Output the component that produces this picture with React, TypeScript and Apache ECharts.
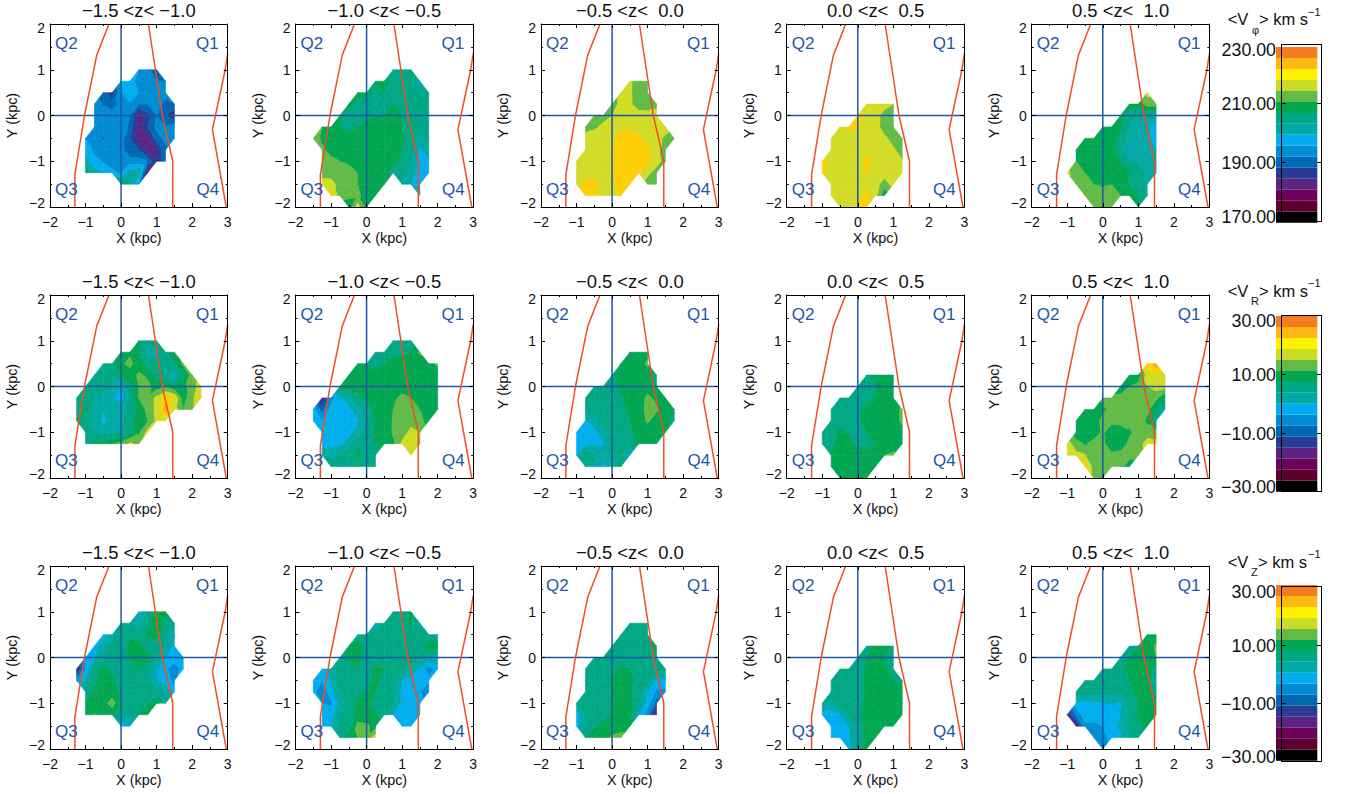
import React, { useEffect, useRef } from "react";
import * as echarts from "echarts";

// Values are positions on the colour bar (0 = bottom band, 16 = top).
// Each row: [y, first x, value at first x, value at next x (0.25 kpc further), ...]
const phiA = [
  [1, .5, 7, 6.5, 4.8],
  [.75, 0, 7.2, 7.5, 6.5, 6.5, 6, 6],
  [.5, -.5, 5.5, 4.4, 7, 7.5, 7, 7, 6.8, 6.5],
  [.25, -.75, 6.5, 5.9, 5.4, 6.5, 6.9, 6, 6, 6.8, 5.5, 6],
  [0, -.75, 6.5, 6.5, 6.5, 6.5, 6, 2.8, 4.5, 6, 5, 3.9],
  [-.25, -.75, 6.5, 6.5, 6.5, 6.5, 5.8, 3.5, 5, 6.3, 6, 6.3],
  [-.5, -1, 7, 6.5, 5.9, 6.5, 6.5, 5, 3.5, 3.5, 5.5, 6.3, 6.5],
  [-.75, -1, 7.6, 6.8, 6.6, 6.5, 6.5, 5, 5, 3.5, 4, 5.8],
  [-1, -1, 8.4, 7.3, 6.9, 6.6, 6.5, 6.5, 6.5, 6, 4, 6],
  [-1.25, -1, 10.2, 8.4, 8, 7.2, 6.9, 8.5, 8.8, 3],
  [-1.5, 0, 10, 8.5, 7],
];
const phiB = [
  [1, .75, 9.5, 9.5, 9.3],
  [.75, .25, 10.3, 10.2, 9.7, 9.5, 9.5, 8.5],
  [.5, -.25, 10.3, 10.2, 9.3, 10, 9.8, 9.5, 9.5, 9.3, 9],
  [.25, -.5, 10.2, 9.7, 9.5, 8.6, 9.8, 10, 9.7, 9.5, 9.5, 9.5],
  [0, -.75, 10.1, 9.4, 9.5, 9.6, 10, 10, 10, 10, 9.8, 9.5, 9.5],
  [-.25, -1.25, 11, 10.4, 10, 9.6, 10, 10.4, 10.5, 10.5, 10.5, 10, 9.6, 9.5, 9.5],
  [-.5, -1.5, 11.5, 10.8, 10.4, 10.5, 10.5, 10.5, 10.5, 10.5, 10.5, 10.4, 10.2, 9.5, 8.7, 9.4],
  [-.75, -1.25, 11.2, 10.6, 10.5, 10.5, 10.5, 10.5, 10.5, 10.5, 10.4, 10, 9.3, 7.8, 8.6],
  [-1, -1.25, 11.5, 11.3, 11, 10.9, 10.5, 10.4, 10.3, 10.4, 10.3, 9.8, 9.2, 7.5, 7.8],
  [-1.25, -1.25, 11.5, 11.4, 11.3, 11.2, 11, 10.4, 10.3, 10.5, 9.5, 9.2, 8.5, 7.5, 7.5],
  [-1.5, -1.25, 12.5, 12.5, 11.5, 11.4, 11, 10.6, 10.5, 11, null, 9, 8, 7.5],
  [-1.75, -1, 13.3, 11.5, 11.3, 11.2, 10.6, 10.5, null, null, null, null, 9],
  [-2, -.5, 10.2, 12.5, 10.5],
];
const phiC = [
  [.75, .5, 12.3, 11.2, 11.2],
  [.5, .25, 12.3, 12.2, 11.3, 11.4],
  [.25, 0, 11.5, 12.3, 12.2, 11.4, 11.3, 11.6],
  [0, -.5, 11.3, 11.5, 12, 12.5, 12.5, 12.5, 12.5, 12.5],
  [-.25, -.75, 11.5, 11.8, 12.3, 12.5, 12.6, 12.8, 12.7, 12.6, 12.5, 12.5],
  [-.5, -.75, 12.5, 12.5, 12.5, 12.9, 13.6, 13.5, 13.2, 12.7, 12.3, 11.8, 11.3],
  [-.75, -.75, 12.5, 12.5, 12.5, 12.9, 13.6, 13.5, 13.5, 13.2, 12.3, 11.6],
  [-1, -1, 12.5, 12.5, 12.5, 12.5, 12.9, 13.5, 13.6, 13.6, 13.2, 12.5, 11.5],
  [-1.25, -1, 12.5, 12.5, 12.5, 12.5, 12.9, 13.5, 13.6, 13.1, 12.3, 11.5],
  [-1.5, -1, 12.5, 13.3, 13.3, 12.5, 12.8, 13.5, 13.2, null, 11.5, 11.4],
  [-1.75, -.75, 13.3, 13.2, 12.5, 12.8, 13.2],
];
const phiD = [
  [.25, .25, 12.5, 12.5, 12.5, 12],
  [0, 0, 13.3, 12.9, 12.5, 11.5, 11.5],
  [-.25, -.5, 12.5, 13.3, 13, 12.5, 12.5, 11.4, 11.5],
  [-.5, -.75, 12.5, 12.5, 12.5, 12.5, 12.5, 12.5, 12.3, 11.5, 11.5],
  [-.75, -.75, 12.5, 12.5, 12.5, 12.5, 12.7, 12.5, 12.5, 12.2, 11.4],
  [-1, -1, 13.3, 12.7, 12.5, 12.5, 12.5, 13.4, 12.6, 12.5, 12.5, 12.1],
  [-1.25, -1, 13.2, 12.6, 12.5, 12.5, 12.5, 13.1, 12.5, 12.5, 12.5, 12.5],
  [-1.5, -.75, 12.5, 12.5, 12.5, 12.5, 12.5, 12.4, 11.5, 12.4],
  [-1.75, -.75, 12.5, 12.5, 12.5, 12.5, 13.5, 12.2, 10.3],
  [-2, -.5, 12.5, 12.5, 13.2, 13.3],
];
const phiE = [
  [.5, 1.25, 12.3],
  [.25, .75, 10.4, 10.5, 11.5, 11.5],
  [0, .5, 10.2, 9.3, 9, 9, 8.7],
  [-.25, 0, 10.5, 10.5, 10.2, 8.9, 8.6, 8.3, 7.3],
  [-.5, -.5, 11, 11, 10.5, 10.5, 9.5, 8.7, 8.5, 8.3, 7.4],
  [-.75, -.75, 10.3, 10.5, 10.5, 10.5, 10.5, 9, 8.7, 8.5, 8.5, 8],
  [-1, -.75, 11, 10.6, 10.5, 10.5, 10.5, 10, 9, 8.7, 8.6, 8.2],
  [-1.25, -1, 12.3, 11.3, 11, 10.8, 10.5, 10.5, 10.5, 10, 9.8, 8.8, 8.2],
  [-1.5, -.75, 11.4, 11.3, 11, 10.9, 11, 10.8, 9.9, 9.5, 8.7],
  [-1.75, -.5, 11.4, 11.3, 11.3, 11.4, 11, 10.5, 10, 9],
  [-2, -.25, 11.4, 11.4, 11.4, null, null, 10],
];
const radA = [
  [1, .5, 10, 9.5, 9.3],
  [.75, 0, 10.5, 10.8, 10, 8.5, 8.8, 9.5, 10.5],
  [.5, -.5, 8.8, 9.6, 10.8, 11.3, 10.4, 9.5, 9.2, 9.2, 9.8, 11.3],
  [.25, -.75, 8.8, 9.8, 9.2, 10.4, 10.5, 11.2, 10.8, 9.6, 8.7, 7.8, 9.8, 11.5],
  [0, -1, 9.3, 9.5, 9.5, 9.2, 8, 9.6, 11, 11.3, 10.5, 10.8, 10.2, 10.7, 11.5, 12.5],
  [-.25, -1.25, 9.5, 9.8, 9, 8.4, 8, 7.5, 9.3, 11, 11.2, 12.3, 13.5, 13, 10.5, 11.8, 12.8],
  [-.5, -1.25, 9.3, 10.2, 8.8, 8, 8.3, 8.7, 9.5, 10.3, 11.3, 12.3, 14.5, 12.5, 11, 11.8],
  [-.75, -1.25, 10.2, 9.3, 8.7, 7.7, 8.5, 8.8, 9.5, 10.5, 11, 12.2, 12.5],
  [-1, -1, 9.5, 9, 8.7, 8.8, 9, 9.7, 10.8, 12.4],
  [-1.25, -1, 9.5, 10.2, 10.5, 10.8, 11.4, 12.2, 11.5],
];
const radB = [
  [1, .75, 9.5, 9, 9.4],
  [.75, .25, 9, 9.7, 9.8, 9.8, 10, 11.2],
  [.5, -.25, 10.2, 10, 9.5, 10, 10.3, 10.4, 10.4, 10.2, 10.7, 11.2],
  [.25, -.5, 10.2, 10.5, 10.5, 10.5, 10.5, 10.5, 10.5, 10.5, 10.5, 10.5, 10.4],
  [0, -.75, 10.5, 10.5, 10.5, 10.5, 10.5, 10.5, 10.5, 10.5, 10.5, 10.5, 10.5, 10.5],
  [-.25, -1.25, 3.5, 6.5, 7.8, 8.5, 9.5, 10.3, 10.5, 10.5, 10.8, 11.3, 11, 10.5, 10.5, 10.5],
  [-.5, -1.5, 7.5, 5.5, 7.5, 7.7, 7.8, 8.5, 9.5, 10.3, 10.5, 11, 11.5, 11.5, 11, 10.4, 10.3],
  [-.75, -1.5, 7.5, 7, 7.5, 7.5, 7.5, 7.8, 9.3, 10.2, 10.4, 11.1, 11.4, 11.6, 11.5, 10.3],
  [-1, -1.25, 7.5, 7.5, 7.5, 7.6, 8.5, 9.3, 10.1, 10.4, 11.1, 11.5, 12.3, 12],
  [-1.25, -1.25, 7.5, 7.6, 7.7, 8.5, 9.5, 9.5, 10, 10.3, 10.9, 12.2, 12.5, 11.8],
  [-1.5, -1.25, 8.8, 8.8, 9.2, 9.4, 10.3, 9.5, 9.4, null, null, null, 12.5],
  [-1.75, -1, 9.8, 9.2, 9.4, 9.4, 9.4, 9.4],
];
const radC = [
  [.75, .5, 10, 10.3, 10.4],
  [.5, .25, 10, 10.3, 10.4, 11.3],
  [.25, 0, 9.8, 10.3, 10.4, 10.4, 10.2, 9.5],
  [0, -.5, 9.5, 9.5, 9.7, 10.2, 10.3, 10.4, 10.4, 10],
  [-.25, -.75, 9.3, 9.4, 9.5, 9.5, 9.9, 10.2, 10.4, 11.3, 10.7, 10.3],
  [-.5, -.75, 9.2, 9.3, 9.5, 9.5, 9.7, 10.2, 10.4, 11.4, 11.2, 10.4, 10.2],
  [-.75, -.75, 7.8, 8.6, 9.4, 9.5, 9.5, 10, 10.4, 11.2, 10.4, 10.4, 9.5],
  [-1, -1, 7.6, 7.6, 7.6, 8.5, 9.5, 9.5, 9.9, 10.2, 10.4, 10.4, 10.2],
  [-1.25, -1, 8, 7.7, 7.9, 7.8, 9.4, 9.5, 9.7, 10.1, 10.2, 10.1],
  [-1.5, -1, 7.6, 10.3, 9.2, 8.5, 9.3, 9, 8],
  [-1.75, -.75, 9, 8.9, 7.6, 8.9, 10.3],
];
const radD = [
  [.25, .25, 9.7, 10.3, 10.5, 10.5],
  [0, 0, 9.5, 9.3, 10, 10.5, 10.5],
  [-.25, -.5, 9.4, 9.4, 9.6, 9.5, 10.2, 10.5, 10.5],
  [-.5, -.75, 9.4, 9.4, 9.4, 9.8, 10.3, 10.5, 10.5, 10.5, 11.2],
  [-.75, -.75, 9.5, 9.5, 9.5, 9.8, 10.3, 10.5, 10.5, 10.5, 11.2],
  [-1, -1, 9.4, 9.7, 10.2, 9.9, 9.6, 10, 10.3, 10.5, 10.5, 10.7],
  [-1.25, -1, 9.5, 9.7, 10.3, 10.3, 9.8, 9.5, 10, 10.4, 10.5, 10.5],
  [-1.5, -.75, 10.2, 10.5, 10.5, 10.5, 10.5, 10.5, 11, 11.2],
  [-1.75, -.75, 10.5, 10.5, 10.5, 10.5, 10.5, 10.5],
  [-2, -.5, 10.5, 10.5, 10.5, 10.5],
];
const radE = [
  [.5, 1.25, 13.5, 14.6],
  [.25, .75, 10.5, 10.4, 12.4, 12.8, 12.3],
  [0, .5, 10, 11, 11.3, 12, 12.4, 12.2],
  [-.25, 0, 11.2, 11.4, 11.5, 11.5, 11.5, 11.4, 11.3, 10],
  [-.5, -.5, 10.4, 10.5, 10.8, 11.3, 11.5, 11.5, 11.5, 11.3, 10, 8.5],
  [-.75, -.75, 10.3, 10.3, 10.5, 11.3, 11.4, 11.5, 11.5, 11.5, 10.8, 9.5],
  [-1, -.75, 10.3, 10.5, 10.4, 11.2, 10.2, 10.2, 10.8, 11.4, 11.4, 11.4],
  [-1.25, -1, 12.5, 11.4, 10.9, 11.4, 11.3, 10.1, 10.3, 11.3, 11.5, 12.5, 12.4],
  [-1.5, -1, 12.6, 12.3, 12.1, 11.4, 11.4, 11.3, 11.4, 11.5, 11.4],
  [-1.75, -.5, 13.5, 11.4, 11.4, 11.4, 11.4, 10.2],
  [-2, -.25, 11.5, 11.3],
];
const vertA = [
  [1, .5, 7.8, 9, 10.3, 10.4],
  [.75, 0, 9.5, 9.5, 8.2, 9.7, 11, 9.8, 9.2],
  [.5, -.5, 7.5, 8.5, 9.5, 9.7, 9.4, 10.2, 10.3, 9.4, 8],
  [.25, -.75, 7.5, 8.5, 9.3, 9.5, 10.3, 10.4, 9.5, 9.5, 9.1, 7.7],
  [0, -1, 7.3, 8, 9.3, 9.5, 9.5, 10.2, 10.5, 10.4, 9.4, 8, 7.6, 7.5],
  [-.25, -1.25, 3.5, 7, 9.4, 10.3, 9.6, 9.5, 9.4, 10, 9.4, 8, 7.2, 6.3, 7.5],
  [-.5, -1.25, 6.5, 8.2, 9.8, 10.4, 10.3, 9.5, 9.5, 9.5, 9.4, 8, 7.5, 6.7],
  [-.75, -1, 9.3, 10.2, 10.4, 10.4, 9.7, 9.5, 9.5, 9.5, 9.4, 8.6, 7.5],
  [-1, -1, 10.2, 10.4, 10.6, 11.5, 10.1, 9.5, 9.4, 9.9, 10.2, 9.5],
  [-1.25, -1, 10.2, 11.1, 10.3, 10.2, 9.3, 9.2, 10, 11],
  [-1.5, 0, 7.6, 7.6],
];
const vertB = [
  [1, .75, 9.4, 9.5, 10.3],
  [.75, .25, 8.5, 9, 9.5, 9.5, 10.2, 8.5],
  [.5, -.25, 9.5, 9, 9.4, 9.5, 9.5, 9.5, 9.5, 9.5, 9.3, 9.4],
  [.25, -.5, 10.1, 10.5, 9.5, 9.5, 9.5, 9.5, 9.5, 9.5, 9.8, 10.4, 10.4],
  [0, -.75, 9.5, 10.2, 10.4, 9.5, 9.5, 9.5, 9.5, 9.5, 9.5, 9.4, 9, 8.5],
  [-.25, -1.25, 7.6, 8.5, 9.4, 9.4, 10, 9.5, 10.3, 10, 9.5, 9.4, 8.6, 7.8, 6.5, 7.5],
  [-.5, -1.5, 7.5, 7, 8, 9.4, 9.5, 9.5, 9.5, 10.2, 9.7, 9.4, 8, 7.6, 7.5, 7.2],
  [-.75, -1.5, 7.3, 6.3, 7.6, 9, 9.4, 9.5, 10.2, 10, 9.5, 9.3, 7.7, 7.6, 7, 6.3],
  [-1, -1.25, 7, 6.8, 8.5, 9.4, 10.2, 10.4, 9.5, 9.5, 9.1, 7.8, 7.6, 7.5],
  [-1.25, -1.25, 7.5, 7.5, 9, 9.5, 10.4, 10.5, 10.2, 9.4, 7.9, 7.6, 7.6, 7.5],
  [-1.5, -1.25, 7.8, 8, 9.3, 9.5, 11.3, 11.2, 10.6, null, null, 7.6, 7.6],
  [-1.75, -.75, 9.5, 10.3, 11, 11.2, 12.6],
];
const vertC = [
  [.75, .5, 9.5, 9.5, 9.5],
  [.5, .25, 9.5, 9.5, 9.5, 9.5],
  [.25, 0, 9.5, 9.5, 9.5, 9.5, 9.5, 10.3],
  [0, -.5, 9.5, 9.5, 9.5, 9.5, 9.5, 9.5, 9.5, 10],
  [-.25, -.75, 9.5, 9.5, 9.5, 9.5, 10.2, 10, 9.5, 9.5, 9.4, 9.3],
  [-.5, -.75, 9.5, 9.5, 9.5, 10.2, 10.4, 10.4, 9.5, 9.5, 7.8, 7.6],
  [-.75, -.75, 9.5, 9.5, 9.5, 10, 10.4, 10.1, 9.5, 8, 6.7, 6.8],
  [-1, -1, 9.5, 9.5, 9.5, 9.5, 10.1, 10.4, 10.3, 9.2, 7.5, 5.5],
  [-1.25, -1, 7.5, 9, 9.5, 9.5, 10.2, 10.4, 10.4, 8, 6.5, 2.5],
  [-1.5, -1, 7.6, 9.2, 9.9, 10.3, 10.5, 10.5, 10.4],
  [-1.75, -.75, 10, 10.5, 10.5, 11.2, 11.4],
];
const vertD = [
  [.25, .25, 9.5, 10.3, 10.5, 9.8],
  [0, 0, 9.5, 10, 10.4, 10, 9.4],
  [-.25, -.5, 9.3, 9.5, 9.5, 10.2, 10.4, 10.2, 9.5],
  [-.5, -.75, 9.5, 9.5, 9.5, 9.5, 10.3, 10.5, 10.4, 10.1, 9.5],
  [-.75, -.75, 9.5, 9.5, 9.5, 9.6, 10.2, 10.5, 10.5, 10.5, 10.4],
  [-1, -1, 9.3, 8.7, 9.4, 9.5, 9.6, 10.3, 10.5, 10.5, 10.4, 10.5],
  [-1.25, -1, 7.6, 7.5, 7.9, 9.3, 9.7, 10.3, 10.5, 10.5, 10.5, 10.5],
  [-1.5, -.75, 7.5, 7.5, 8, 9.4, 10.3, 10.5, 10.5, 10.5],
  [-1.75, -.75, 7.5, 7.5, 7.8, 9.4, 10.3, 10.5],
  [-2, -.25, 7.7, 9.5, 10.3],
];
const vertE = [
  [.5, 1.25, 10.4, 10.4],
  [.25, .75, 9.5, 9.8, 10.4, 11.2],
  [0, .5, 9.4, 10.1, 10.4, 10.4, 11],
  [-.25, 0, 9.5, 9.5, 9.7, 10.2, 10.4, 10.3, 9.8],
  [-.5, -.5, 9.5, 9.5, 9.5, 9.5, 9.5, 10, 10.4, 10.1, 8],
  [-.75, -.75, 9.3, 9.3, 9.3, 9.3, 9.2, 9.4, 9.8, 10.3, 10.2, 9.7],
  [-1, -.75, 7.7, 7.7, 7.7, 8, 8, 7.9, 9.5, 10, 10.3, 10.4],
  [-1.25, -1, 4, 6.3, 7.5, 7.5, 7.6, 7.6, 8, 9.3, 10.2, 10.4, 10.4],
  [-1.5, -.75, 3.5, 6.8, 6.7, 7, 7.6, 8.2, 9.4, 9.7, 10.2],
  [-1.75, -.25, 6.7, 6.6, 7.4, 7.8, 8.7, 9.7],
  [-2, 0, 6.5],
];

const panels = [phiA, phiB, phiC, phiD, phiE, radA, radB, radC, radD, radE, vertA, vertB, vertC, vertD, vertE];
const zTitles = ["\u22121.5 <z< \u22121.0", "\u22121.0 <z< \u22120.5", "\u22120.5 <z<  0.0", "0.0 <z<  0.5", "0.5 <z<  1.0"];
const quadrantLabels: [string, number, number][] = [["Q2", -1.86, 1.57], ["Q1", 2.11, 1.57], ["Q3", -1.86, -1.62], ["Q4", 2.12, -1.62]];
const armA = [[-.34, 2], [-.685, 1.32], [-1.03, 0], [-1.3, -1.29], [-1.3, -2]];
const armB = [[.77, 2], [1.16, 0], [1.455, -1], [1.455, -2]];
const armC = [[3, 1.36], [2.93, 1], [2.57, -.31], [2.96, -2]];
const barColors = ["#000000", "#5c0030", "#6d0058", "#5b2480", "#2a3b96", "#0067b3", "#008bd2", "#00aeef", "#00a9a5", "#00a784", "#00a650", "#62bb46", "#cbdb2a", "#fff200", "#fdb913", "#f47b20"];
const fillColors = ["#000000", "#5c0030", "#6d0058", "#5b2480", "#2a3b96", "#0067b3", "#008bd2", "#00aeef", "#00a9a5", "#00a784", "#00a650", "#62bb46", "#d2dc27", "#ffcf05", "#fbaa19", "#f15a29"];
const barRanges = [[170, 230], [-30, 30], [-30, 30]];
const barTicks = [[170, 190, 210, 230], [-30, -10, 10, 30], [-30, -10, 10, 30]];
const barSubs = ["\u03c6", "R", "Z"];
const barLabelShift = [-4.4, 0.7, 1, 5.5];

const gridLefts = [50, 295.5, 541, 786.7, 1031.7];
const gridTops = [24, 295, 566];
const GW = 177.7, GH = 183;
const barFrameTops = [44.5, 315.7, 586.7];
const barFrameHeights = [176.8, 176, 174.3];
const barImageTops = [47, 316, 585];
const FONT = "Liberation Sans";
const BLUE = "#1c57a5";
const RED = "#ef4e25";
const INK = "#111111";

type P = [number, number, number];
function clipBand(tri: P[], lo: number, hi: number): P[] {
  const cut = (pts: P[], keep: (v: number) => boolean, lim: number) => {
    const out: P[] = [];
    pts.forEach((p, i) => {
      const q = pts[(i + 1) % pts.length];
      const a = keep(p[2]), b = keep(q[2]);
      if (a) out.push(p);
      if (a !== b) {
        const t = (lim - p[2]) / (q[2] - p[2]);
        out.push([p[0] + t * (q[0] - p[0]), p[1] + t * (q[1] - p[1]), lim]);
      }
    });
    return out;
  };
  return cut(cut(tri, (v) => v >= lo, lo), (v) => v <= hi, hi);
}
function contourPieces(rows: (number | null)[][]) {
  const nodes = new Map<string, P>();
  const key = (ix: number, iy: number) => ix + "," + iy;
  rows.forEach((r) => {
    const y = r[0] as number, x0 = r[1] as number;
    r.slice(2).forEach((v, i) => {
      if (v === null) return;
      const x = x0 + i * 0.25;
      nodes.set(key(Math.round((x + 2) * 4), Math.round((y + 2) * 4)), [x, y, v as number]);
    });
  });
  const tris: P[][] = [];
  for (let ix = 0; ix < 20; ix++) for (let iy = 0; iy < 16; iy++) {
    const a = nodes.get(key(ix, iy)), b = nodes.get(key(ix + 1, iy)), c = nodes.get(key(ix + 1, iy + 1)), d = nodes.get(key(ix, iy + 1));
    const present = [a, b, c, d].filter(Boolean) as P[];
    if (present.length === 3) tris.push(present);
    else if (present.length === 4) {
      if (Math.abs(a![2] - c![2]) <= Math.abs(b![2] - d![2])) tris.push([a!, b!, c!], [a!, c!, d!]);
      else tris.push([a!, b!, d!], [b!, c!, d!]);
    }
  }
  const pieces: { pts: P[]; band: number }[] = [];
  tris.forEach((t) => {
    const vs = t.map((p) => p[2]);
    const lo = Math.floor(Math.min(...vs)), hi = Math.floor(Math.max(...vs));
    for (let k = lo; k <= hi; k++) {
      const pts = clipBand(t, k, k + 1);
      if (pts.length >= 3) pieces.push({ pts, band: k });
    }
  });
  return pieces;
}
const minusFmt = (v: number) => (v < 0 ? "\u2212" + Math.abs(v) : String(v));
const plain = { fontFamily: FONT, color: INK };

function buildOption() {
  const grid: any[] = [], xAxis: any[] = [], yAxis: any[] = [], series: any[] = [], title: any[] = [], graphic: any[] = [];
  let g = 0;
  const lineBits = { axisLine: { show: true, onZero: false, lineStyle: { color: "#000", width: 1 } } };
  const addAxes = () => {
    const tick = { show: true, inside: true, length: 4, lineStyle: { color: "#000", width: 1 } };
    const minor = { show: true, splitNumber: 2, length: 2, lineStyle: { color: "#000", width: 1 } };
    const base = { type: "value", gridIndex: g, interval: 1, splitLine: { show: false }, axisTick: tick, minorTick: minor, z: 6, silent: true, ...lineBits };
    xAxis.push({ ...base, position: "bottom", min: -2, max: 3, name: "X (kpc)", nameLocation: "middle", nameGap: 24, nameTextStyle: { ...plain, fontSize: 14.4 },
      axisLabel: { ...plain, fontSize: 14, margin: 8, formatter: minusFmt } });
    xAxis.push({ ...base, position: "top", min: -2, max: 3, axisLabel: { show: false } });
    yAxis.push({ ...base, position: "left", min: -2, max: 2, name: "Y (kpc)", nameLocation: "middle", nameGap: 31, nameTextStyle: { ...plain, fontSize: 14.4 },
      axisLabel: { ...plain, fontSize: 14, margin: 5, lineHeight: 8, formatter: minusFmt, verticalAlignMinLabel: "bottom", verticalAlignMaxLabel: "top" } });
    yAxis.push({ ...base, position: "right", min: -2, max: 2, axisLabel: { show: false } });
  };
  gridTops.forEach((top, r) => {
    gridLefts.forEach((left, c) => {
      grid.push({ left, top, width: GW, height: GH });
      addAxes();
      const xi = g * 2, yi = g * 2;
      const pieces = contourPieces(panels[r * 5 + c] as any);
      series.push({
        type: "custom", coordinateSystem: "cartesian2d", xAxisIndex: xi, yAxisIndex: yi, silent: true, z: 2,
        data: pieces.map((p) => [p.pts[0][0], p.pts[0][1], p.band]),
        renderItem: (params: any, api: any) => {
          const piece = pieces[params.dataIndex];
          const col = fillColors[piece.band];
          return { type: "polygon", shape: { points: piece.pts.map((p) => api.coord([p[0], p[1]])) }, style: { fill: col, stroke: col, lineWidth: 0.6 } };
        },
      });
      const mkLine = (data: number[][], color: string, width: number, z: number) => ({
        type: "line", xAxisIndex: xi, yAxisIndex: yi, data, showSymbol: false, silent: true, z, lineStyle: { color, width }, symbol: "none",
      });
      series.push(mkLine([[-2, 0], [3, 0]], BLUE, 1.5, 3));
      series.push(mkLine([[0, -2], [0, 2]], BLUE, 1.5, 3));
      series.push(mkLine(armA, RED, 1.5, 4));
      series.push(mkLine(armB, RED, 1.5, 4));
      series.push(mkLine(armC, RED, 1.5, 4));
      series.push({
        type: "custom", coordinateSystem: "cartesian2d", xAxisIndex: xi, yAxisIndex: yi, silent: true, z: 5,
        data: quadrantLabels.map((q) => [q[1], q[2]]),
        renderItem: (params: any, api: any) => {
          const q = quadrantLabels[params.dataIndex];
          const pt = api.coord([q[1], q[2]]);
          return { type: "text", x: pt[0], y: pt[1], style: { text: q[0], fill: BLUE, fontFamily: FONT, fontSize: 17, textAlign: "left", textVerticalAlign: "middle" } };
        },
      });
      title.push({ text: zTitles[c], left: left + GW / 2, top: top - 22.5, textAlign: "center", padding: 0,
        textStyle: { fontFamily: FONT, fontSize: 18.4, fontWeight: "normal", color: INK } });
      g++;
    });
  });
  // colour bars
  barRanges.forEach((range, r) => {
    const [mn, mx] = range;
    const step = (mx - mn) / barColors.length;
    grid.push({ left: 1276, top: barImageTops[r], width: 41.3, height: 175.7 });
    xAxis.push({ type: "value", gridIndex: g, min: 0, max: 1, show: false });
    yAxis.push({ type: "value", gridIndex: g, min: mn, max: mx, show: false });
    let xi = xAxis.length - 1, yi = yAxis.length - 1;
    series.push({
      type: "custom", coordinateSystem: "cartesian2d", xAxisIndex: xi, yAxisIndex: yi, silent: true, z: 2,
      data: barColors.map((_, i) => [0, mn + i * step]),
      renderItem: (params: any, api: any) => {
        const i = params.dataIndex;
        const a = api.coord([0, mn + i * step]), b = api.coord([1, mn + (i + 1) * step]);
        return { type: "rect", shape: { x: a[0], y: b[1], width: b[0] - a[0], height: a[1] - b[1] }, style: { fill: barColors[i] } };
      },
    });
    g++;
    grid.push({ left: 1281.5, top: barFrameTops[r], width: 39.7, height: barFrameHeights[r] });
    const tick = { show: true, inside: true, length: 4, customValues: barTicks[r], lineStyle: { color: "#000", width: 1 } };
    const line = { show: true, onZero: false, lineStyle: { color: "#000", width: 1 } };
    xAxis.push({ type: "value", gridIndex: g, position: "bottom", min: 0, max: 1, axisLine: line, axisTick: { show: false }, axisLabel: { show: false }, splitLine: { show: false }, z: 6 });
    xAxis.push({ type: "value", gridIndex: g, position: "top", min: 0, max: 1, axisLine: line, axisTick: { show: false }, axisLabel: { show: false }, splitLine: { show: false }, z: 6 });
    yAxis.push({ type: "value", gridIndex: g, position: "left", min: mn, max: mx, axisLine: line, axisTick: tick, axisLabel: { show: false }, splitLine: { show: false }, z: 6 });
    yAxis.push({ type: "value", gridIndex: g, position: "right", min: mn, max: mx, axisLine: line, axisTick: tick, axisLabel: { show: false }, splitLine: { show: false }, z: 6 });
    xi = xAxis.length - 2; yi = yAxis.length - 2;
    const ticks = barTicks[r];
    series.push({
      type: "custom", coordinateSystem: "cartesian2d", xAxisIndex: xi, yAxisIndex: yi, silent: true, z: 5, clip: false,
      data: ticks.map((v) => [0, v]),
      renderItem: (params: any, api: any) => {
        const v = ticks[params.dataIndex];
        const pt = api.coord([0, v]);
        return { type: "text", x: pt[0] - 5.5, y: pt[1] + barLabelShift[params.dataIndex],
          style: { text: (v < 0 ? "\u2212" : "") + Math.abs(v).toFixed(2), fill: INK, fontFamily: FONT, fontSize: 17.8, textAlign: "right", textVerticalAlign: "middle" } };
      },
    });
    g++;
    const base = gridTops[r] - 24;
    const heads = [
      { text: "<V", x: 1227.7, y: base + 19 + (r === 0 ? 0 : 1), size: 16.5 },
      { text: barSubs[r], x: r === 0 ? 1252 : 1251, y: base + 30, size: 11 },
      { text: "> km s", x: r === 2 ? 1258 : 1259, y: base + 19 + (r === 0 ? 0 : 1), size: 16.5 },
      { text: "\u22121", x: 1308, y: base + 12, size: 11 },
    ];
    heads.forEach((h) => graphic.push({ type: "text", x: h.x, y: h.y, silent: true,
      style: { text: h.text, fill: INK, fontFamily: FONT, fontSize: h.size, textAlign: "left", textVerticalAlign: "middle" } }));
  });
  return { animation: false, backgroundColor: "#fff", grid, xAxis, yAxis, series, title, graphic };
}

export default function App() {
  const ref = useRef<HTMLDivElement>(null);
  useEffect(() => {
    const chart = echarts.init(ref.current!, undefined, { renderer: "svg" });
    chart.setOption(buildOption() as any);
    return () => chart.dispose();
  }, []);
  return <div ref={ref} style={{ position: "fixed", left: 0, top: 0, width: 1347, height: 794 }} />;
}
